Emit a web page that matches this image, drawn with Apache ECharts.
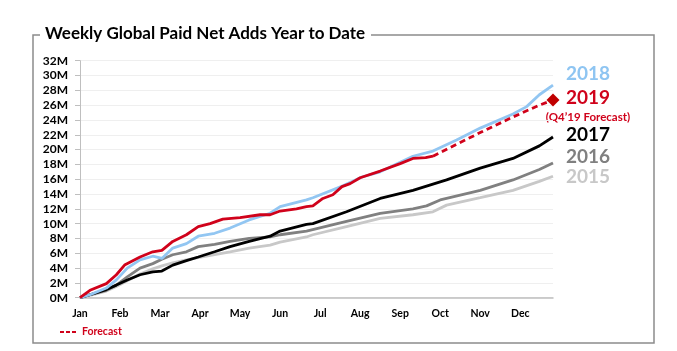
<!DOCTYPE html>
<html>
<head>
<meta charset="utf-8">
<script src="https://cdn.jsdelivr.net/npm/echarts@6/dist/echarts.min.js"></script>
<style>
  html, body { margin: 0; padding: 0; background: #fff; }
  #chart { width: 677px; height: 351px; }
</style>
</head>
<body>
<div id="chart"></div>
<script>
// month labels on the x axis (one every 4.4 weeks)
var months = ['Jan', 'Feb', 'Mar', 'Apr', 'May', 'Jun', 'Jul', 'Aug', 'Sep', 'Oct', 'Nov', 'Dec'];
var monthStep = 4.4;

// [week, cumulative paid net adds in millions]
var y2015 = [[0, 0], [1.1, 0.3], [2.9, 0.9], [4.0, 1.5], [5.2, 2.3], [6.6, 3.2], [8.0, 3.9], [9.0, 4.3],
  [10.2, 4.7], [11.7, 5.1], [13.0, 5.4], [14.8, 5.8], [16.5, 6.2], [18.6, 6.7], [20.9, 7.1], [22.0, 7.5],
  [24.9, 8.2], [25.6, 8.5], [29.3, 9.6], [33.0, 10.7], [36.6, 11.2], [38.8, 11.6], [40.3, 12.5],
  [44.0, 13.5], [47.6, 14.5], [50.5, 15.7], [52, 16.4]];
var y2016 = [[0, 0], [1.1, 0.4], [2.9, 1.0], [4.0, 1.7], [5.2, 2.8], [6.6, 4.0], [8.0, 4.6], [9.0, 5.2],
  [10.2, 5.8], [11.7, 6.2], [13.0, 6.9], [14.8, 7.2], [16.5, 7.6], [18.6, 8.0], [20.9, 8.2], [22.0, 8.5],
  [24.9, 9.0], [29.3, 10.3], [33.0, 11.4], [36.6, 12.0], [38.1, 12.4], [39.6, 13.2], [44.0, 14.5],
  [47.6, 15.9], [50.5, 17.3], [52, 18.2]];
var y2017 = [[0, 0], [1.1, 0.4], [2.9, 1.1], [4.0, 1.7], [5.2, 2.4], [6.6, 3.1], [8.0, 3.5], [9.0, 3.6],
  [10.2, 4.4], [11.7, 5.0], [13.0, 5.5], [14.8, 6.2], [16.5, 6.9], [18.6, 7.6], [20.9, 8.3], [22.0, 9.0],
  [24.9, 9.9], [25.6, 10.0], [29.3, 11.6], [33.0, 13.4], [36.6, 14.5], [40.3, 15.9], [44.0, 17.5],
  [47.6, 18.8], [50.5, 20.5], [52, 21.7]];
var y2018 = [[0, 0], [1.1, 0.4], [2.9, 1.3], [4.0, 2.4], [5.2, 4.0], [6.6, 5.1], [8.0, 5.6], [9.0, 5.3],
  [10.2, 6.7], [11.7, 7.3], [13.0, 8.3], [14.8, 8.7], [16.5, 9.4], [18.6, 10.5], [20.9, 11.4], [22.0, 12.3],
  [24.9, 13.2], [25.6, 13.5], [28.9, 15.1], [31.0, 16.3], [33.0, 17.0], [36.6, 19.1], [38.8, 19.8],
  [41.4, 21.3], [44.0, 22.9], [47.6, 24.8], [49.1, 25.8], [50.5, 27.4], [52, 28.7]];
var y2019 = [[0, 0], [1.1, 1.0], [2.9, 1.9], [4.0, 3.1], [4.9, 4.4], [6.6, 5.5], [8.0, 6.2], [9.0, 6.4],
  [10.2, 7.6], [11.7, 8.5], [13.0, 9.6], [14.3, 10.0], [15.7, 10.6], [17.6, 10.8], [19.8, 11.2], [20.9, 11.2],
  [22.0, 11.7], [23.8, 12.0], [24.9, 12.3], [25.6, 12.4], [26.7, 13.4], [27.8, 13.9], [28.8, 15.0],
  [29.7, 15.4], [30.8, 16.2], [33.0, 17.1], [35.2, 18.1], [36.6, 18.8], [38.0, 18.9], [38.8, 19.1]];
var y2019Forecast = [[38.8, 19.1], [44.0, 22.3], [47.6, 24.4], [50.5, 26.0], [52, 26.7]];

var FONT = 'Lato';
var chart = echarts.init(document.getElementById('chart'));

function line(name, data, color, width, z) {
  return {
    name: name, type: 'line', data: data, symbol: 'none', z: z,
    lineStyle: { color: color, width: width }, animation: false
  };
}

var fc = line('Forecast', y2019Forecast, '#d0021b', 2.8, 6);
fc.lineStyle.type = [6, 4];
fc.symbol = function (v, p) { return p.dataIndex === y2019Forecast.length - 1 ? 'diamond' : 'none'; };
fc.showSymbol = true;
fc.symbolSize = 13;
fc.itemStyle = { color: '#c00000' };

var labels = [
  { t: '2018', y: 74, c: '#8ec5f2', s: 19 },
  { t: '2019', y: 98, c: '#d0021b', s: 19 },
  { t: '(Q4\u201919 Forecast)', y: 117, c: '#d0021b', s: 11.5, x: 588 },
  { t: '2017', y: 135, c: '#000000', s: 19 },
  { t: '2016', y: 157, c: '#808080', s: 19 },
  { t: '2015', y: 177, c: '#c8c8c8', s: 19 }
];

var graphic = [
  {
    type: 'polyline', silent: true,
    shape: { points: [[40, 35], [33, 35], [33, 343], [654, 343], [654, 35], [371, 35]] },
    style: { stroke: '#8c8c8c', lineWidth: 1.5, fill: null }
  },
  {
    type: 'text', left: 45, top: 25,
    style: { text: 'Weekly Global Paid Net Adds Year to Date', font: 'bold 17px ' + FONT, fill: '#000' }
  },
  {
    type: 'line', shape: { x1: 60, y1: 332, x2: 78, y2: 332 },
    style: { stroke: '#d0021b', lineWidth: 2, lineDash: [4, 2] }
  },
  {
    type: 'text', left: 82, top: 326,
    style: { text: 'Forecast', font: 'bold 10.5px ' + FONT, fill: '#d0021b' }
  }
];
labels.forEach(function (l) {
  graphic.push({
    type: 'text', x: l.x || 588, y: l.y,
    style: { text: l.t, font: 'bold ' + l.s + 'px ' + FONT, fill: l.c, align: 'center', verticalAlign: 'middle' }
  });
});

chart.setOption({
  animation: false,
  grid: { left: 80, right: 124, top: 60.7, bottom: 53.3 },
  xAxis: {
    type: 'value', min: 0, max: 52, interval: monthStep,
    axisLine: { show: true, lineStyle: { color: '#bfbfbf', width: 1.5 } },
    axisTick: { show: false },
    splitLine: { show: false },
    axisLabel: {
      showMaxLabel: false, margin: 10,
      color: '#000', fontFamily: FONT, fontWeight: 'bold', fontSize: 10.5,
      formatter: function (v) { return months[Math.round(v / monthStep)] || ''; }
    }
  },
  yAxis: {
    type: 'value', min: 0, max: 32, interval: 2,
    axisLine: { show: true, lineStyle: { color: '#bfbfbf' } },
    axisTick: { show: true, inside: false, length: 5, lineStyle: { color: '#bfbfbf' } },
    splitLine: { lineStyle: { color: '#efefef' } },
    axisLabel: {
      margin: 12, color: '#000', fontFamily: FONT, fontWeight: 'bold', fontSize: 12,
      formatter: function (v) { return v + 'M'; }
    }
  },
  series: [
    line('2015', y2015, '#c8c8c8', 2.8, 1),
    line('2016', y2016, '#808080', 2.8, 2),
    line('2017', y2017, '#000000', 2.8, 3),
    line('2018', y2018, '#92c6f2', 2.8, 4),
    line('2019', y2019, '#d0021b', 2.8, 5),
    fc
  ],
  graphic: graphic
});
</script>
</body>
</html>
